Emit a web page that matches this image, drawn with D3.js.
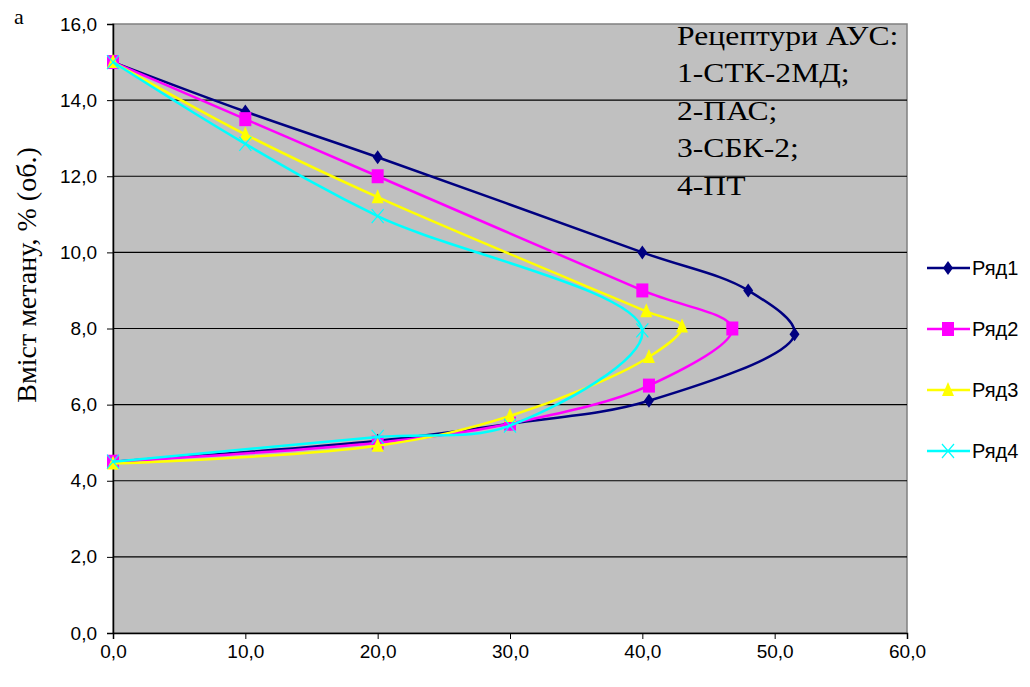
<!DOCTYPE html>
<html>
<head>
<meta charset="utf-8">
<title>Вміст метану</title>
<script src="https://d3js.org/d3.v7.min.js"></script>
<style>
  body { margin: 0; background: #fff; }
</style>
</head>
<body>
<script>
// data (x = %, y = вміст метану)
var seriesNames = ["Ряд1", "Ряд2", "Ряд3", "Ряд4"];
var s1x = [0, 10, 20, 40, 48, 51.5, 40.5, 30, 20, 0];
var s1y = [15, 13.7, 12.5, 10, 9, 7.85, 6.1, 5.5, 5.05, 4.5];
var s2x = [0, 10, 20, 40, 46.8, 40.5, 30, 20, 0];
var s2y = [15, 13.5, 12.0, 9.0, 8.0, 6.5, 5.5, 5.0, 4.5];
var s3x = [0, 10, 20, 40.3, 43, 40.5, 30, 20, 0];
var s3y = [15, 13.1, 11.45, 8.45, 8.05, 7.25, 5.7, 4.92, 4.45];
var s4x = [0, 10, 20, 40, 30, 20, 0];
var s4y = [15, 12.85, 10.95, 7.95, 5.45, 5.15, 4.5];
var xTicks = [0, 10, 20, 30, 40, 50, 60];
var yTicks = [0, 2, 4, 6, 8, 10, 12, 14, 16];
var noteLines = ["Рецептури АУС:", "1-СТК-2МД;", "2-ПАС;", "3-СБК-2;", "4-ПТ"];

var colors = ["#000080", "#ff00ff", "#ffff00", "#00ffff"];
var markers = ["diamond", "square", "triangle", "x"];

var W = 1030, H = 687;
var pLeft = 113, pRight = 907, pTop = 24, pBottom = 633;
var sansFont = "'Liberation Sans Narrow', 'Liberation Sans', Arial, sans-serif";
var serifFont = "'Liberation Serif', 'Times New Roman', serif";

var svg = d3.select("body").append("svg").attr("width", W).attr("height", H);

var x = d3.scaleLinear().domain([0, 60]).range([pLeft, pRight]);
var y = d3.scaleLinear().domain([0, 16]).range([pBottom, pTop]);

// plot area
svg.append("rect")
  .attr("x", pLeft).attr("y", pTop)
  .attr("width", pRight - pLeft).attr("height", pBottom - pTop)
  .attr("fill", "#c0c0c0").attr("stroke", "#808080").attr("stroke-width", 1.5);

// grid lines
svg.append("g").selectAll("line")
  .data(yTicks.filter(function(d) { return d > 0 && d < 16; }))
  .enter().append("line")
  .attr("x1", pLeft).attr("x2", pRight)
  .attr("y1", function(d) { return y(d); }).attr("y2", function(d) { return y(d); })
  .attr("stroke", "#000").attr("stroke-width", 1.2);

// axes
var fmt = function(d) { return d.toFixed(1).replace(".", ","); };
var gx = svg.append("g")
  .attr("transform", "translate(0," + pBottom + ")")
  .call(d3.axisBottom(x).tickValues(xTicks).tickFormat(fmt).tickSize(6).tickPadding(6));
var gy = svg.append("g")
  .attr("transform", "translate(" + pLeft + ",0)")
  .call(d3.axisLeft(y).tickValues(yTicks).tickFormat(fmt).tickSize(6).tickPadding(10));
[gx, gy].forEach(function(g) {
  g.selectAll("path.domain").attr("stroke", "#000").attr("stroke-width", 1.5);
  g.selectAll(".tick line").attr("stroke", "#000");
  g.selectAll(".tick text").attr("font-size", 19).attr("font-family", sansFont).attr("fill", "#000");
});

// series
var allX = [s1x, s2x, s3x, s4x];
var allY = [s1y, s2y, s3y, s4y];
var series = seriesNames.map(function(n, i) {
  return { name: n, color: colors[i], marker: markers[i],
    pts: allX[i].map(function(v, j) { return [v, allY[i][j]]; }) };
});

var line = d3.line()
  .x(function(d) { return x(d[0]); })
  .y(function(d) { return y(d[1]); })
  .curve(d3.curveCatmullRom.alpha(0.5));

function drawMarker(g, type, color, cx, cy) {
  if (type === "diamond") {
    g.append("path").attr("d", "M" + cx + "," + (cy - 7) + "L" + (cx + 5) + "," + cy + "L" + cx + "," + (cy + 7) + "L" + (cx - 5) + "," + cy + "Z")
      .attr("fill", color);
  } else if (type === "square") {
    g.append("rect").attr("x", cx - 6).attr("y", cy - 7).attr("width", 12).attr("height", 14).attr("fill", color);
  } else if (type === "triangle") {
    g.append("path").attr("d", "M" + cx + "," + (cy - 8) + "L" + (cx + 6) + "," + (cy + 6) + "L" + (cx - 6) + "," + (cy + 6) + "Z")
      .attr("fill", color);
  } else {
    g.append("path").attr("d", "M" + (cx - 6) + "," + (cy - 7) + "L" + (cx + 6) + "," + (cy + 7) + "M" + (cx + 6) + "," + (cy - 7) + "L" + (cx - 6) + "," + (cy + 7))
      .attr("stroke", color).attr("stroke-width", 1.2).attr("fill", "none");
  }
}

series.forEach(function(s) {
  svg.append("path").datum(s.pts)
    .attr("d", line).attr("fill", "none")
    .attr("stroke", s.color).attr("stroke-width", 2.5);
  var mg = svg.append("g");
  s.pts.forEach(function(p) { drawMarker(mg, s.marker, s.color, x(p[0]), y(p[1])); });
});

// note (text in the source is a bit wider than Times)
var note = svg.append("text")
  .attr("transform", "translate(677,0) scale(1.13,1)")
  .attr("font-family", serifFont)
  .attr("font-size", 28).attr("fill", "#000");
noteLines.forEach(function(t, i) {
  note.append("tspan").attr("x", 0).attr("y", 45 + i * 37.5).text(t);
});

// legend
var lg = svg.append("g");
series.forEach(function(s, i) {
  var ly = 268 + i * 61;
  lg.append("line").attr("x1", 927).attr("x2", 970).attr("y1", ly).attr("y2", ly)
    .attr("stroke", s.color).attr("stroke-width", 2.5);
  drawMarker(lg, s.marker, s.color, 948, ly);
  lg.append("text").attr("x", 972).attr("y", ly + 7)
    .attr("font-family", sansFont)
    .attr("font-size", 20).attr("fill", "#000").text(s.name);
});

// axis title
svg.append("text")
  .attr("transform", "translate(36,275) rotate(-90)")
  .attr("text-anchor", "middle")
  .attr("font-family", serifFont)
  .attr("font-size", 28).attr("fill", "#000")
  .text("Вміст метану, % (об.)");

svg.append("text").attr("x", 14).attr("y", 24)
  .attr("font-family", serifFont)
  .attr("font-size", 22).attr("fill", "#000").text("а");
</script>
</body>
</html>
